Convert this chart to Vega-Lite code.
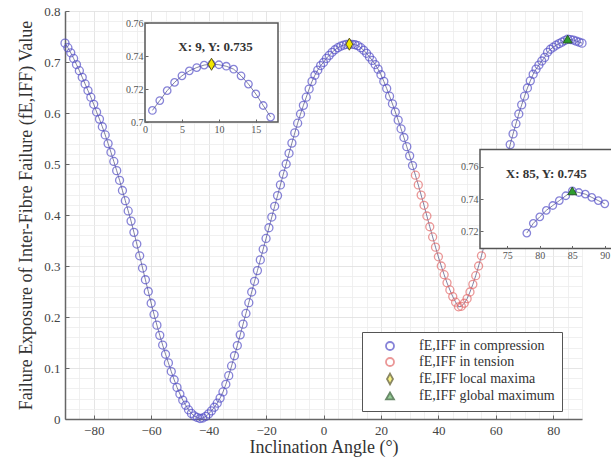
{
  "$schema": "https://vega.github.io/schema/vega-lite/v6.json",
  "width": 517,
  "height": 408,
  "autosize": {"type": "none"},
  "padding": {"left": 65, "top": 11, "right": 29, "bottom": 48},
  "background": "white",
  "config": {"view": {"stroke": null}, "font": "Liberation Serif"},
  "datasets": {
    "curve": [
      {"angle": -90, "fe": 0.737, "series": "in compression"},
      {"angle": -89, "fe": 0.728, "series": "in compression"},
      {"angle": -88, "fe": 0.718, "series": "in compression"},
      {"angle": -87, "fe": 0.707, "series": "in compression"},
      {"angle": -86, "fe": 0.695, "series": "in compression"},
      {"angle": -85, "fe": 0.683, "series": "in compression"},
      {"angle": -84, "fe": 0.670, "series": "in compression"},
      {"angle": -83, "fe": 0.657, "series": "in compression"},
      {"angle": -82, "fe": 0.644, "series": "in compression"},
      {"angle": -81, "fe": 0.631, "series": "in compression"},
      {"angle": -80, "fe": 0.617, "series": "in compression"},
      {"angle": -79, "fe": 0.602, "series": "in compression"},
      {"angle": -78, "fe": 0.588, "series": "in compression"},
      {"angle": -77, "fe": 0.573, "series": "in compression"},
      {"angle": -76, "fe": 0.557, "series": "in compression"},
      {"angle": -75, "fe": 0.540, "series": "in compression"},
      {"angle": -74, "fe": 0.523, "series": "in compression"},
      {"angle": -73, "fe": 0.505, "series": "in compression"},
      {"angle": -72, "fe": 0.487, "series": "in compression"},
      {"angle": -71, "fe": 0.468, "series": "in compression"},
      {"angle": -70, "fe": 0.448, "series": "in compression"},
      {"angle": -69, "fe": 0.428, "series": "in compression"},
      {"angle": -68, "fe": 0.408, "series": "in compression"},
      {"angle": -67, "fe": 0.388, "series": "in compression"},
      {"angle": -66, "fe": 0.366, "series": "in compression"},
      {"angle": -65, "fe": 0.343, "series": "in compression"},
      {"angle": -64, "fe": 0.320, "series": "in compression"},
      {"angle": -63, "fe": 0.296, "series": "in compression"},
      {"angle": -62, "fe": 0.273, "series": "in compression"},
      {"angle": -61, "fe": 0.250, "series": "in compression"},
      {"angle": -60, "fe": 0.227, "series": "in compression"},
      {"angle": -59, "fe": 0.205, "series": "in compression"},
      {"angle": -58, "fe": 0.184, "series": "in compression"},
      {"angle": -57, "fe": 0.164, "series": "in compression"},
      {"angle": -56, "fe": 0.145, "series": "in compression"},
      {"angle": -55, "fe": 0.127, "series": "in compression"},
      {"angle": -54, "fe": 0.110, "series": "in compression"},
      {"angle": -53, "fe": 0.093, "series": "in compression"},
      {"angle": -52, "fe": 0.077, "series": "in compression"},
      {"angle": -51, "fe": 0.062, "series": "in compression"},
      {"angle": -50, "fe": 0.049, "series": "in compression"},
      {"angle": -49, "fe": 0.037, "series": "in compression"},
      {"angle": -48, "fe": 0.027, "series": "in compression"},
      {"angle": -47, "fe": 0.018, "series": "in compression"},
      {"angle": -46, "fe": 0.011, "series": "in compression"},
      {"angle": -45, "fe": 0.006, "series": "in compression"},
      {"angle": -44, "fe": 0.003, "series": "in compression"},
      {"angle": -43, "fe": 0.001, "series": "in compression"},
      {"angle": -42, "fe": 0.002, "series": "in compression"},
      {"angle": -41, "fe": 0.005, "series": "in compression"},
      {"angle": -40, "fe": 0.010, "series": "in compression"},
      {"angle": -39, "fe": 0.016, "series": "in compression"},
      {"angle": -38, "fe": 0.023, "series": "in compression"},
      {"angle": -37, "fe": 0.031, "series": "in compression"},
      {"angle": -36, "fe": 0.041, "series": "in compression"},
      {"angle": -35, "fe": 0.053, "series": "in compression"},
      {"angle": -34, "fe": 0.068, "series": "in compression"},
      {"angle": -33, "fe": 0.085, "series": "in compression"},
      {"angle": -32, "fe": 0.104, "series": "in compression"},
      {"angle": -31, "fe": 0.124, "series": "in compression"},
      {"angle": -30, "fe": 0.144, "series": "in compression"},
      {"angle": -29, "fe": 0.165, "series": "in compression"},
      {"angle": -28, "fe": 0.186, "series": "in compression"},
      {"angle": -27, "fe": 0.207, "series": "in compression"},
      {"angle": -26, "fe": 0.228, "series": "in compression"},
      {"angle": -25, "fe": 0.249, "series": "in compression"},
      {"angle": -24, "fe": 0.270, "series": "in compression"},
      {"angle": -23, "fe": 0.291, "series": "in compression"},
      {"angle": -22, "fe": 0.312, "series": "in compression"},
      {"angle": -21, "fe": 0.333, "series": "in compression"},
      {"angle": -20, "fe": 0.354, "series": "in compression"},
      {"angle": -19, "fe": 0.375, "series": "in compression"},
      {"angle": -18, "fe": 0.396, "series": "in compression"},
      {"angle": -17, "fe": 0.417, "series": "in compression"},
      {"angle": -16, "fe": 0.438, "series": "in compression"},
      {"angle": -15, "fe": 0.459, "series": "in compression"},
      {"angle": -14, "fe": 0.480, "series": "in compression"},
      {"angle": -13, "fe": 0.500, "series": "in compression"},
      {"angle": -12, "fe": 0.521, "series": "in compression"},
      {"angle": -11, "fe": 0.541, "series": "in compression"},
      {"angle": -10, "fe": 0.561, "series": "in compression"},
      {"angle": -9, "fe": 0.580, "series": "in compression"},
      {"angle": -8, "fe": 0.598, "series": "in compression"},
      {"angle": -7, "fe": 0.615, "series": "in compression"},
      {"angle": -6, "fe": 0.631, "series": "in compression"},
      {"angle": -5, "fe": 0.647, "series": "in compression"},
      {"angle": -4, "fe": 0.662, "series": "in compression"},
      {"angle": -3, "fe": 0.674, "series": "in compression"},
      {"angle": -2, "fe": 0.684, "series": "in compression"},
      {"angle": -1, "fe": 0.693, "series": "in compression"},
      {"angle": 0, "fe": 0.699, "series": "in compression"},
      {"angle": 1, "fe": 0.707, "series": "in compression"},
      {"angle": 2, "fe": 0.713, "series": "in compression"},
      {"angle": 3, "fe": 0.719, "series": "in compression"},
      {"angle": 4, "fe": 0.724, "series": "in compression"},
      {"angle": 5, "fe": 0.728, "series": "in compression"},
      {"angle": 6, "fe": 0.731, "series": "in compression"},
      {"angle": 7, "fe": 0.733, "series": "in compression"},
      {"angle": 8, "fe": 0.7345, "series": "in compression"},
      {"angle": 9, "fe": 0.735, "series": "in compression"},
      {"angle": 10, "fe": 0.7347, "series": "in compression"},
      {"angle": 11, "fe": 0.7338, "series": "in compression"},
      {"angle": 12, "fe": 0.732, "series": "in compression"},
      {"angle": 13, "fe": 0.728, "series": "in compression"},
      {"angle": 14, "fe": 0.723, "series": "in compression"},
      {"angle": 15, "fe": 0.717, "series": "in compression"},
      {"angle": 16, "fe": 0.710, "series": "in compression"},
      {"angle": 17, "fe": 0.703, "series": "in compression"},
      {"angle": 18, "fe": 0.695, "series": "in compression"},
      {"angle": 19, "fe": 0.686, "series": "in compression"},
      {"angle": 20, "fe": 0.675, "series": "in compression"},
      {"angle": 21, "fe": 0.662, "series": "in compression"},
      {"angle": 22, "fe": 0.648, "series": "in compression"},
      {"angle": 23, "fe": 0.633, "series": "in compression"},
      {"angle": 24, "fe": 0.618, "series": "in compression"},
      {"angle": 25, "fe": 0.602, "series": "in compression"},
      {"angle": 26, "fe": 0.586, "series": "in compression"},
      {"angle": 27, "fe": 0.569, "series": "in compression"},
      {"angle": 28, "fe": 0.552, "series": "in compression"},
      {"angle": 29, "fe": 0.534, "series": "in compression"},
      {"angle": 30, "fe": 0.516, "series": "in compression"},
      {"angle": 31, "fe": 0.497, "series": "in compression"},
      {"angle": 32, "fe": 0.478, "series": "in tension"},
      {"angle": 33, "fe": 0.459, "series": "in tension"},
      {"angle": 34, "fe": 0.439, "series": "in tension"},
      {"angle": 35, "fe": 0.419, "series": "in tension"},
      {"angle": 36, "fe": 0.398, "series": "in tension"},
      {"angle": 37, "fe": 0.377, "series": "in tension"},
      {"angle": 38, "fe": 0.357, "series": "in tension"},
      {"angle": 39, "fe": 0.337, "series": "in tension"},
      {"angle": 40, "fe": 0.318, "series": "in tension"},
      {"angle": 41, "fe": 0.300, "series": "in tension"},
      {"angle": 42, "fe": 0.283, "series": "in tension"},
      {"angle": 43, "fe": 0.267, "series": "in tension"},
      {"angle": 44, "fe": 0.253, "series": "in tension"},
      {"angle": 45, "fe": 0.240, "series": "in tension"},
      {"angle": 46, "fe": 0.229, "series": "in tension"},
      {"angle": 47, "fe": 0.220, "series": "in tension"},
      {"angle": 48, "fe": 0.221, "series": "in tension"},
      {"angle": 49, "fe": 0.227, "series": "in tension"},
      {"angle": 50, "fe": 0.236, "series": "in tension"},
      {"angle": 51, "fe": 0.249, "series": "in tension"},
      {"angle": 52, "fe": 0.264, "series": "in tension"},
      {"angle": 53, "fe": 0.281, "series": "in tension"},
      {"angle": 54, "fe": 0.300, "series": "in tension"},
      {"angle": 55, "fe": 0.320, "series": "in tension"},
      {"angle": 56, "fe": 0.342, "series": "in tension"},
      {"angle": 57, "fe": 0.364, "series": "in tension"},
      {"angle": 58, "fe": 0.386, "series": "in tension"},
      {"angle": 59, "fe": 0.408, "series": "in tension"},
      {"angle": 60, "fe": 0.430, "series": "in tension"},
      {"angle": 61, "fe": 0.452, "series": "in tension"},
      {"angle": 62, "fe": 0.474, "series": "in tension"},
      {"angle": 63, "fe": 0.496, "series": "in compression"},
      {"angle": 64, "fe": 0.517, "series": "in compression"},
      {"angle": 65, "fe": 0.538, "series": "in compression"},
      {"angle": 66, "fe": 0.559, "series": "in compression"},
      {"angle": 67, "fe": 0.579, "series": "in compression"},
      {"angle": 68, "fe": 0.598, "series": "in compression"},
      {"angle": 69, "fe": 0.616, "series": "in compression"},
      {"angle": 70, "fe": 0.633, "series": "in compression"},
      {"angle": 71, "fe": 0.649, "series": "in compression"},
      {"angle": 72, "fe": 0.663, "series": "in compression"},
      {"angle": 73, "fe": 0.676, "series": "in compression"},
      {"angle": 74, "fe": 0.686, "series": "in compression"},
      {"angle": 75, "fe": 0.694, "series": "in compression"},
      {"angle": 76, "fe": 0.702, "series": "in compression"},
      {"angle": 77, "fe": 0.709, "series": "in compression"},
      {"angle": 78, "fe": 0.719, "series": "in compression"},
      {"angle": 79, "fe": 0.725, "series": "in compression"},
      {"angle": 80, "fe": 0.729, "series": "in compression"},
      {"angle": 81, "fe": 0.733, "series": "in compression"},
      {"angle": 82, "fe": 0.736, "series": "in compression"},
      {"angle": 83, "fe": 0.739, "series": "in compression"},
      {"angle": 84, "fe": 0.742, "series": "in compression"},
      {"angle": 85, "fe": 0.745, "series": "in compression"},
      {"angle": 86, "fe": 0.744, "series": "in compression"},
      {"angle": 87, "fe": 0.743, "series": "in compression"},
      {"angle": 88, "fe": 0.741, "series": "in compression"},
      {"angle": 89, "fe": 0.739, "series": "in compression"},
      {"angle": 90, "fe": 0.737, "series": "in compression"}
    ],
    "maxima": [
      {"angle": 9, "fe": 0.735, "series": "local maxima", "tip": "X: 9, Y: 0.735"},
      {"angle": 85, "fe": 0.745, "series": "global maximum", "tip": "X: 85, Y: 0.745"}
    ]
  },
  "layer": [
    {
      "encoding": {
        "x": {
          "field": "angle", "type": "quantitative",
          "scale": {"domain": [-90, 90], "nice": false, "zero": false},
          "axis": {
            "orient": "bottom",
            "title": "Inclination Angle (°)",
            "values": [-90,-85,-80,-75,-70,-65,-60,-55,-50,-45,-40,-35,-30,-25,-20,-15,-10,-5,0,5,10,15,20,25,30,35,40,45,50,55,60,65,70,75,80,85,90],
            "labelExpr": "datum.value % 20 === 0 ? datum.label : ''",
            "grid": true,
            "gridColor": {"condition": {"test": "datum.value % 20 === 0", "value": "#dedede"}, "value": "#ececec"},
            "gridWidth": 0.8,
            "tickOpacity": {"condition": {"test": "datum.value % 20 === 0", "value": 1}, "value": 0},
            "tickSize": -4, "tickColor": "#666", "tickWidth": 1,
            "domainColor": "#666", "domainWidth": 1.5,
            "labelFont": "Liberation Serif", "labelFontSize": 13, "labelColor": "#444",
            "labelPadding": 9, "labelFlush": false, "labelOverlap": false,
            "titleFont": "Liberation Serif", "titleFontSize": 18, "titleFontWeight": "normal", "titleColor": "#333",
            "titlePadding": 1, "zindex": 0
          }
        },
        "y": {
          "field": "fe", "type": "quantitative",
          "scale": {"domain": [0, 0.8], "nice": false, "zero": false},
          "axis": {
            "orient": "left",
            "title": "Failure Exposure of Inter-Fibre Failure (fE,IFF) Value",
            "values": [0,0.02,0.04,0.06,0.08,0.1,0.12,0.14,0.16,0.18,0.2,0.22,0.24,0.26,0.28,0.3,0.32,0.34,0.36,0.38,0.4,0.42,0.44,0.46,0.48,0.5,0.52,0.54,0.56,0.58,0.6,0.62,0.64,0.66,0.68,0.7,0.72,0.74,0.76,0.78,0.8],
            "labelExpr": "abs(datum.value*10 - round(datum.value*10)) < 0.001 ? format(datum.value, '~g') : ''",
            "grid": true,
            "gridColor": {"condition": {"test": "abs(datum.value*10 - round(datum.value*10)) < 0.001", "value": "#dedede"}, "value": "#ececec"},
            "gridWidth": 0.8,
            "tickOpacity": {"condition": {"test": "abs(datum.value*10 - round(datum.value*10)) < 0.001", "value": 1}, "value": 0},
            "tickSize": -4, "tickColor": "#666", "tickWidth": 1,
            "domainColor": "#666", "domainWidth": 1.5,
            "labelFont": "Liberation Serif", "labelFontSize": 13, "labelColor": "#444",
            "labelPadding": 9, "labelFlush": false, "labelOverlap": false,
            "titleFont": "Liberation Serif", "titleFontSize": 18, "titleFontWeight": "normal", "titleColor": "#333",
            "titlePadding": 8, "zindex": 0
          }
        }
      },
      "layer": [
        {
          "data": {"name": "curve"},
          "mark": {"type": "line", "color": "#3a3a70", "strokeWidth": 0.8, "opacity": 0.8}
        },
        {
          "data": {"name": "curve"},
          "mark": {"type": "point", "size": 64, "strokeWidth": 1.3},
          "encoding": {
            "shape": {"field": "series", "type": "nominal",
              "scale": {"domain": ["in compression", "in tension", "local maxima", "global maximum"],
                        "range": ["circle", "circle", "M0,-1.35L0.75,0L0,1.35L-0.75,0Z", "triangle-up"]},
              "legend": {"orient": "none", "legendX": 297, "legendY": 321, "title": null,
                         "strokeColor": "#555", "fillColor": "white", "padding": 7,
                         "labelFont": "Liberation Serif", "labelFontSize": 14, "labelColor": "#333",
                         "labelExpr": "'fE,IFF ' + datum.label", "symbolSize": 64, "symbolStrokeWidth": 1.8,
                         "symbolOffset": 14, "labelOffset": 22, "rowPadding": 0}},
            "stroke": {"field": "series", "type": "nominal",
              "scale": {"domain": ["in compression", "in tension", "local maxima", "global maximum"],
                        "range": ["#5550c8", "#e36c6c", "#5a5520", "#2a5a2a"]}},
            "fill": {"field": "series", "type": "nominal",
              "scale": {"domain": ["in compression", "in tension", "local maxima", "global maximum"],
                        "range": ["transparent", "transparent", "#f2e600", "#2e9e2e"]}}
          }
        },
        {
          "data": {"name": "maxima"},
          "mark": {"type": "point", "size": 80, "strokeWidth": 1, "opacity": 1},
          "encoding": {
            "shape": {"field": "series", "type": "nominal"},
            "stroke": {"field": "series", "type": "nominal"},
            "fill": {"field": "series", "type": "nominal"}
          }
        }
      ]
    },
    {
      "encoding": {
        "x": {
          "field": "angle", "type": "quantitative",
          "scale": {"domain": [0, 18], "range": [80, 213], "nice": false, "zero": false},
          "axis": {"orient": "bottom", "offset": -297, "title": null, "values": [0, 5, 10, 15],
                   "grid": false, "domain": false, "tickSize": -3, "tickColor": "#666",
                   "labelFont": "Liberation Serif", "labelFontSize": 10, "labelColor": "#555",
                   "labelPadding": 5, "labelFlush": false, "labelOverlap": false, "zindex": 1}
        },
        "y": {
          "field": "fe", "type": "quantitative",
          "scale": {"domain": [0.7, 0.76], "range": [111, 12], "nice": false, "zero": false},
          "axis": {"orient": "left", "offset": -80, "title": null, "values": [0.7, 0.72, 0.74, 0.76],
                   "format": "~g", "grid": false, "domain": false, "tickSize": -3, "tickColor": "#666",
                   "labelFont": "Liberation Serif", "labelFontSize": 10, "labelColor": "#555",
                   "labelPadding": 5, "labelFlush": false, "labelOverlap": false, "zindex": 1}
        }
      },
      "layer": [
        {
          "data": {"name": "maxima"},
          "transform": [{"filter": "datum.angle === 9"}],
          "mark": {"type": "rect", "fill": "white", "stroke": "#555", "strokeWidth": 1.5, "opacity": 1},
          "encoding": {
            "x": {"datum": 0, "type": "quantitative",
                  "axis": {"orient": "bottom", "offset": -297, "title": null, "values": [0, 5, 10, 15],
                   "grid": false, "domain": false, "tickSize": -3, "tickColor": "#666",
                   "labelFont": "Liberation Serif", "labelFontSize": 10, "labelColor": "#555",
                   "labelPadding": 5, "labelFlush": false, "labelOverlap": false, "zindex": 1}},
            "x2": {"datum": 18},
            "y": {"datum": 0.7, "type": "quantitative",
                  "axis": {"orient": "left", "offset": -80, "title": null, "values": [0.7, 0.72, 0.74, 0.76],
                   "format": "~g", "grid": false, "domain": false, "tickSize": -3, "tickColor": "#666",
                   "labelFont": "Liberation Serif", "labelFontSize": 10, "labelColor": "#555",
                   "labelPadding": 5, "labelFlush": false, "labelOverlap": false, "zindex": 1}},
            "y2": {"datum": 0.76}
          }
        },
        {
          "data": {"name": "curve"},
          "transform": [{"filter": "datum.angle >= 0 && datum.angle <= 18 && datum.fe >= 0.7"}],
          "mark": {"type": "line", "color": "#3a3a70", "strokeWidth": 0.8, "opacity": 0.8}
        },
        {
          "data": {"name": "curve"},
          "transform": [{"filter": "datum.angle >= 0 && datum.angle <= 18 && datum.fe >= 0.7"}],
          "mark": {"type": "point", "size": 56, "strokeWidth": 1.3},
          "encoding": {
            "shape": {"field": "series", "type": "nominal"},
            "stroke": {"field": "series", "type": "nominal"},
            "fill": {"field": "series", "type": "nominal"}
          }
        },
        {
          "data": {"name": "maxima"},
          "transform": [{"filter": "datum.angle === 9"}],
          "mark": {"type": "point", "size": 80, "strokeWidth": 1, "opacity": 1},
          "encoding": {
            "shape": {"field": "series", "type": "nominal"},
            "stroke": {"field": "series", "type": "nominal"},
            "fill": {"field": "series", "type": "nominal"}
          }
        },
        {
          "data": {"name": "maxima"},
          "transform": [{"filter": "datum.angle === 9"}],
          "mark": {"type": "text", "font": "Liberation Serif", "fontSize": 13, "fontWeight": "bold",
                   "color": "#333", "dx": 4, "dy": -17, "baseline": "middle", "align": "center"},
          "encoding": {"text": {"field": "tip"}}
        }
      ]
    },
    {
      "encoding": {
        "x": {
          "field": "angle", "type": "quantitative",
          "scale": {"domain": [70.8, 92], "range": [415, 552.8], "nice": false, "zero": false},
          "axis": {"orient": "bottom", "offset": -170.5, "title": null, "values": [75, 80, 85, 90],
                   "grid": false, "domain": false, "tickSize": -3, "tickColor": "#666",
                   "labelFont": "Liberation Serif", "labelFontSize": 10, "labelColor": "#555",
                   "labelPadding": 5, "labelFlush": false, "labelOverlap": false, "labelBound": false, "zindex": 1}
        },
        "y": {
          "field": "fe", "type": "quantitative",
          "scale": {"domain": [0.7095, 0.7705], "range": [237.5, 138.5], "nice": false, "zero": false},
          "axis": {"orient": "left", "offset": -415, "title": null, "values": [0.72, 0.74, 0.76],
                   "format": "~g", "grid": false, "domain": false, "tickSize": -3, "tickColor": "#666",
                   "labelFont": "Liberation Serif", "labelFontSize": 10, "labelColor": "#555",
                   "labelPadding": 5, "labelFlush": false, "labelOverlap": false, "zindex": 1}
        }
      },
      "layer": [
        {
          "data": {"name": "maxima"},
          "transform": [{"filter": "datum.angle === 85"}],
          "mark": {"type": "rect", "fill": "white", "stroke": "#555", "strokeWidth": 1.5, "opacity": 1},
          "encoding": {
            "x": {"datum": 70.8, "type": "quantitative",
                  "axis": {"orient": "bottom", "offset": -170.5, "title": null, "values": [75, 80, 85, 90],
                   "grid": false, "domain": false, "tickSize": -3, "tickColor": "#666",
                   "labelFont": "Liberation Serif", "labelFontSize": 10, "labelColor": "#555",
                   "labelPadding": 5, "labelFlush": false, "labelOverlap": false, "labelBound": false, "zindex": 1}},
            "x2": {"datum": 92},
            "y": {"datum": 0.7095, "type": "quantitative",
                  "axis": {"orient": "left", "offset": -415, "title": null, "values": [0.72, 0.74, 0.76],
                   "format": "~g", "grid": false, "domain": false, "tickSize": -3, "tickColor": "#666",
                   "labelFont": "Liberation Serif", "labelFontSize": 10, "labelColor": "#555",
                   "labelPadding": 5, "labelFlush": false, "labelOverlap": false, "zindex": 1}},
            "y2": {"datum": 0.7705}
          }
        },
        {
          "data": {"name": "curve"},
          "transform": [{"filter": "datum.angle >= 71 && datum.fe >= 0.7095"}],
          "mark": {"type": "line", "color": "#3a3a70", "strokeWidth": 0.8, "opacity": 0.8}
        },
        {
          "data": {"name": "curve"},
          "transform": [{"filter": "datum.angle >= 71 && datum.fe >= 0.7095"}],
          "mark": {"type": "point", "size": 56, "strokeWidth": 1.3},
          "encoding": {
            "shape": {"field": "series", "type": "nominal"},
            "stroke": {"field": "series", "type": "nominal"},
            "fill": {"field": "series", "type": "nominal"}
          }
        },
        {
          "data": {"name": "maxima"},
          "transform": [{"filter": "datum.angle === 85"}],
          "mark": {"type": "point", "size": 80, "strokeWidth": 1, "opacity": 1},
          "encoding": {
            "shape": {"field": "series", "type": "nominal"},
            "stroke": {"field": "series", "type": "nominal"},
            "fill": {"field": "series", "type": "nominal"}
          }
        },
        {
          "data": {"name": "maxima"},
          "transform": [{"filter": "datum.angle === 85"}],
          "mark": {"type": "text", "font": "Liberation Serif", "fontSize": 13, "fontWeight": "bold",
                   "color": "#333", "dx": -26, "dy": -17, "baseline": "middle", "align": "center"},
          "encoding": {"text": {"field": "tip"}}
        }
      ]
    }
  ],
  "resolve": {"scale": {"x": "independent", "y": "independent"}}
}
